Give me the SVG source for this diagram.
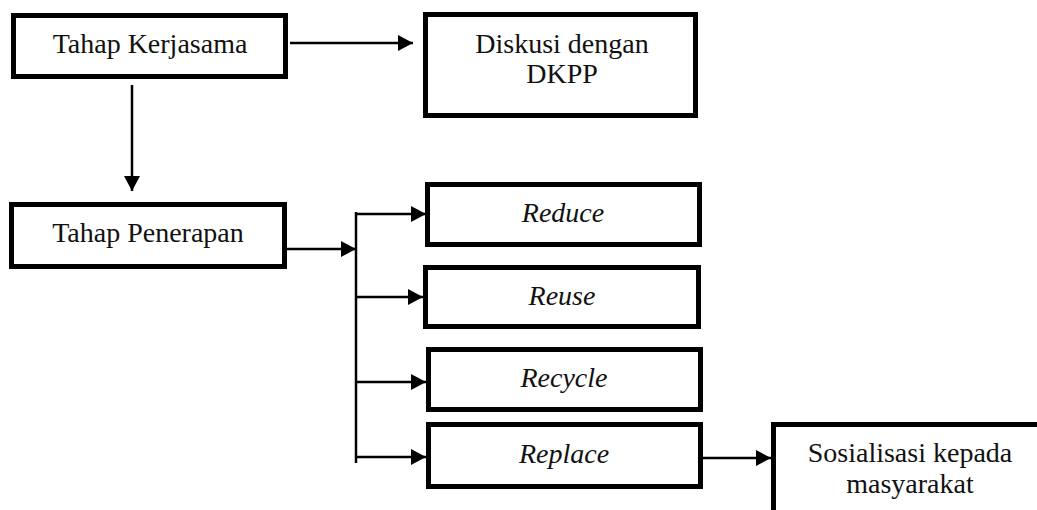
<svg xmlns="http://www.w3.org/2000/svg" width="1037" height="510" viewBox="0 0 1037 510">
<style>
.box{fill:#fff;stroke:#000;stroke-width:5}
.t{font-family:'Liberation Serif','Times New Roman',serif;font-size:28px;fill:#111;text-anchor:middle}
.i{font-style:italic}
.c{fill:none;stroke:#000;stroke-width:2.5}
</style>
<defs>
<marker id="ah" markerUnits="userSpaceOnUse" markerWidth="16" markerHeight="16" viewBox="0 0 16 16" refX="15" refY="8" orient="auto">
<path d="M0,0 L15,8 L0,16 Z" fill="#000"/>
</marker>
</defs>
<rect width="1037" height="510" fill="#fff"/>
<g id="connectors">
<path class="c" d="M290,43 H413" marker-end="url(#ah)"/>
<path class="c" d="M132,85 V191" marker-end="url(#ah)"/>
<path class="c" d="M287,249 H356" marker-end="url(#ah)"/>
<path class="c" d="M356,212 V463"/>
<path class="c" d="M356,214 H426" marker-end="url(#ah)"/>
<path class="c" d="M356,297 H423" marker-end="url(#ah)"/>
<path class="c" d="M356,382 H426" marker-end="url(#ah)"/>
<path class="c" d="M356,457 H426" marker-end="url(#ah)"/>
<path class="c" d="M703,458 H771" marker-end="url(#ah)"/>
</g>
<g id="kerjasama">
<rect class="box" x="13.5" y="15.5" width="272" height="61"/>
<text class="t" x="150" y="53">Tahap Kerjasama</text>
</g>
<g id="diskusi">
<rect class="box" x="425.5" y="14.5" width="270" height="101"/>
<text class="t" x="562" y="53">Diskusi dengan</text>
<text class="t" x="562" y="83">DKPP</text>
</g>
<g id="penerapan">
<rect class="box" x="11.5" y="204.5" width="273" height="62"/>
<text class="t" x="148" y="242">Tahap Penerapan</text>
</g>
<g id="reduce">
<rect class="box" x="427.5" y="184.5" width="272" height="60"/>
<text class="t i" x="563" y="222">Reduce</text>
</g>
<g id="reuse">
<rect class="box" x="425.5" y="267.5" width="273" height="59"/>
<text class="t i" x="562" y="305">Reuse</text>
</g>
<g id="recycle">
<rect class="box" x="428.5" y="349.5" width="272" height="60"/>
<text class="t i" x="564" y="387">Recycle</text>
</g>
<g id="replace">
<rect class="box" x="428.5" y="424.5" width="272" height="62"/>
<text class="t i" x="564" y="463">Replace</text>
</g>
<g id="sosialisasi">
<rect class="box" x="773.5" y="424.5" width="400" height="200"/>
<text class="t" x="910" y="462">Sosialisasi kepada</text>
<text class="t" x="910" y="493">masyarakat</text>
</g>
</svg>
